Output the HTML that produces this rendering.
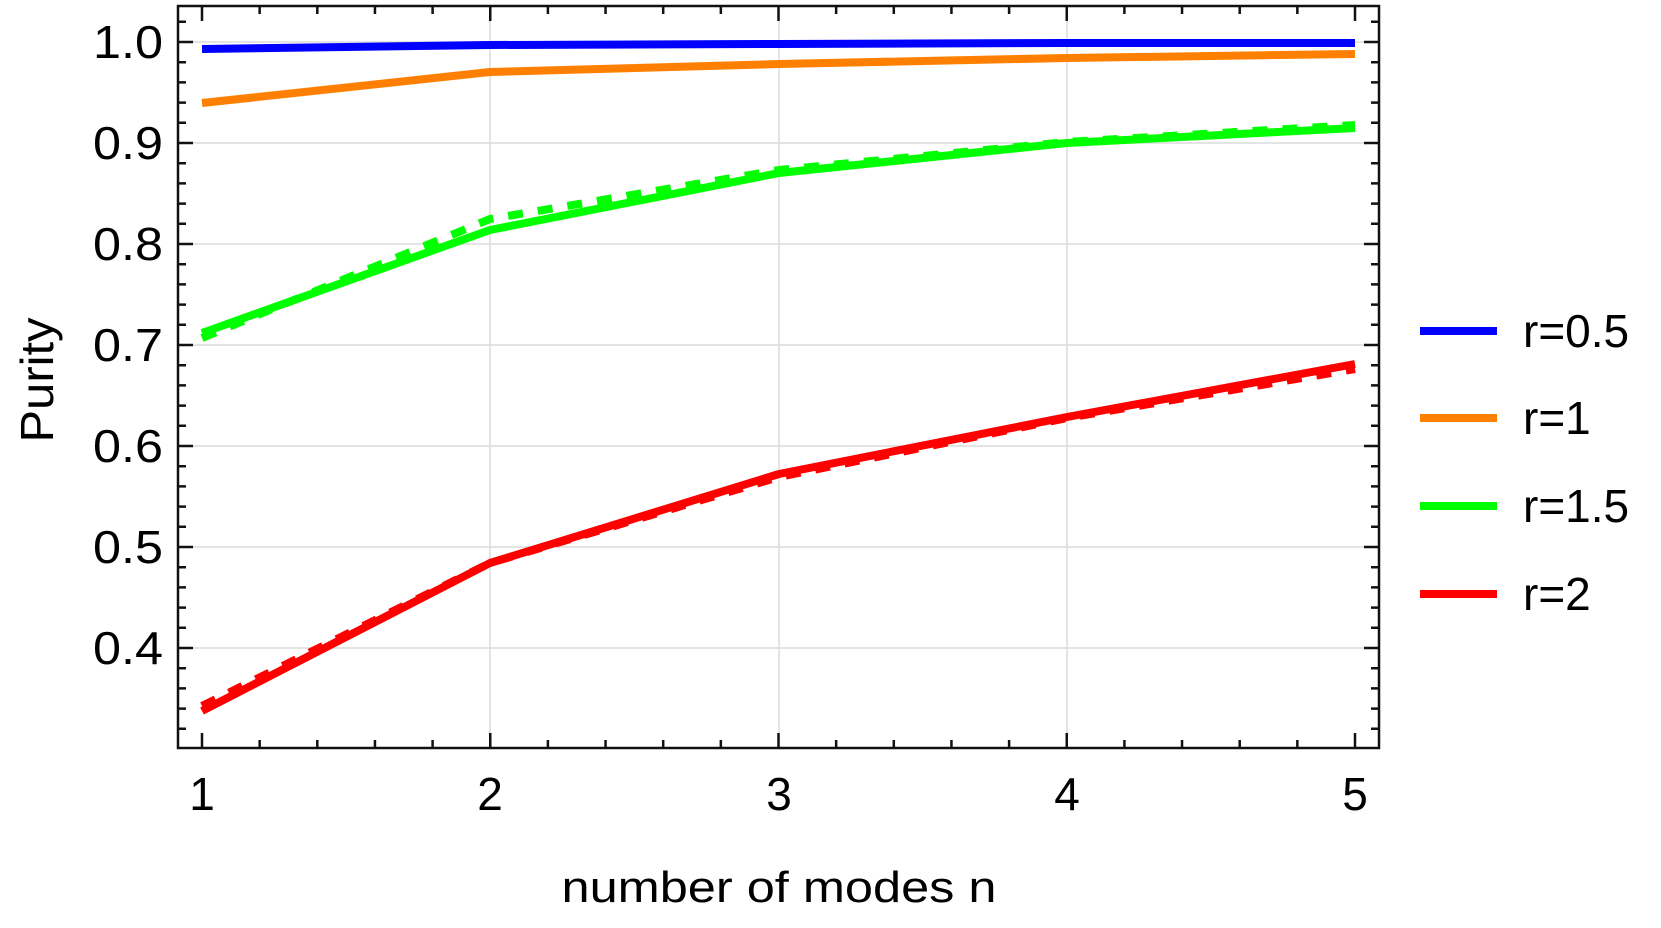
<!DOCTYPE html>
<html><head><meta charset="utf-8"><style>
html,body{margin:0;padding:0;background:#fff;}
svg{display:block;}
text{font-family:"Liberation Sans Narrow","Liberation Sans",sans-serif;fill:#000;}
</style></head><body>
<svg width="1661" height="928" viewBox="0 0 1661 928" xmlns="http://www.w3.org/2000/svg">
<g stroke="#dcdcdc" stroke-width="1.5">
<line x1="490" y1="6" x2="490" y2="748"/><line x1="779" y1="6" x2="779" y2="748"/><line x1="1067" y1="6" x2="1067" y2="748"/>
<line x1="178" y1="42" x2="1379" y2="42"/><line x1="178" y1="143" x2="1379" y2="143"/><line x1="178" y1="244" x2="1379" y2="244"/><line x1="178" y1="345" x2="1379" y2="345"/><line x1="178" y1="446" x2="1379" y2="446"/><line x1="178" y1="547" x2="1379" y2="547"/><line x1="178" y1="648" x2="1379" y2="648"/>
</g>
<g fill="none" stroke-width="8" stroke-linejoin="round">
<polyline stroke="#0000ff" points="202,49 490,45 779,44 1067,43 1355,43"/>
<polyline stroke="#ff8000" points="202,103 490,72 779,64 1067,58 1355,54"/>
<polyline stroke="#00ff00" stroke-dasharray="15,15" points="202,338 490,219 779,170 1067,142 1355,125"/>
<polyline stroke="#00ff00" points="202,333 490,230 779,173 1067,143 1355,128"/>
<polyline stroke="#ff0000" stroke-dasharray="15,15" points="202,706 490,563 779,477 1067,418 1355,369"/>
<polyline stroke="#ff0000" points="202,711 490,563 779,474 1067,417 1355,364"/>
</g>
<g stroke="#111" stroke-width="2.5" fill="none">
<path d="M178 21.8h8M178 42h15M178 62.2h8M178 82.4h8M178 102.6h8M178 122.8h8M178 143h15M178 163.2h8M178 183.4h8M178 203.6h8M178 223.8h8M178 244h15M178 264.2h8M178 284.4h8M178 304.6h8M178 324.8h8M178 345h15M178 365.2h8M178 385.4h8M178 405.6h8M178 425.8h8M178 446h15M178 466.2h8M178 486.4h8M178 506.6h8M178 526.8h8M178 547h15M178 567.2h8M178 587.4h8M178 607.6h8M178 627.8h8M178 648h15M178 668.2h8M178 688.4h8M178 708.6h8M178 728.8h8"/>
<path d="M1379 21.8h-8M1379 42h-15M1379 62.2h-8M1379 82.4h-8M1379 102.6h-8M1379 122.8h-8M1379 143h-15M1379 163.2h-8M1379 183.4h-8M1379 203.6h-8M1379 223.8h-8M1379 244h-15M1379 264.2h-8M1379 284.4h-8M1379 304.6h-8M1379 324.8h-8M1379 345h-15M1379 365.2h-8M1379 385.4h-8M1379 405.6h-8M1379 425.8h-8M1379 446h-15M1379 466.2h-8M1379 486.4h-8M1379 506.6h-8M1379 526.8h-8M1379 547h-15M1379 567.2h-8M1379 587.4h-8M1379 607.6h-8M1379 627.8h-8M1379 648h-15M1379 668.2h-8M1379 688.4h-8M1379 708.6h-8M1379 728.8h-8"/>
<path d="M202 748v-15M259.65 748v-8M317.3 748v-8M374.95 748v-8M432.6 748v-8M490.25 748v-15M547.9 748v-8M605.55 748v-8M663.2 748v-8M720.85 748v-8M778.5 748v-15M836.15 748v-8M893.8 748v-8M951.45 748v-8M1009.1 748v-8M1066.75 748v-15M1124.4 748v-8M1182.05 748v-8M1239.7 748v-8M1297.35 748v-8M1355 748v-15"/>
<path d="M202 6v15M259.65 6v8M317.3 6v8M374.95 6v8M432.6 6v8M490.25 6v15M547.9 6v8M605.55 6v8M663.2 6v8M720.85 6v8M778.5 6v15M836.15 6v8M893.8 6v8M951.45 6v8M1009.1 6v8M1066.75 6v15M1124.4 6v8M1182.05 6v8M1239.7 6v8M1297.35 6v8M1355 6v15"/>
</g>
<rect x="178" y="6" width="1201" height="742" fill="none" stroke="#111" stroke-width="2.5"/>
<g font-size="46" text-anchor="end">
<text x="163" y="58" textLength="70" lengthAdjust="spacingAndGlyphs">1.0</text><text x="163" y="159" textLength="70" lengthAdjust="spacingAndGlyphs">0.9</text><text x="163" y="260" textLength="70" lengthAdjust="spacingAndGlyphs">0.8</text><text x="163" y="361" textLength="70" lengthAdjust="spacingAndGlyphs">0.7</text><text x="163" y="462" textLength="70" lengthAdjust="spacingAndGlyphs">0.6</text><text x="163" y="563" textLength="70" lengthAdjust="spacingAndGlyphs">0.5</text><text x="163" y="664" textLength="70" lengthAdjust="spacingAndGlyphs">0.4</text>
</g>
<g font-size="46" text-anchor="middle">
<text x="202" y="810">1</text><text x="490" y="810">2</text><text x="779" y="810">3</text><text x="1067" y="810">4</text><text x="1355" y="810">5</text>
</g>
<text x="779" y="902" font-size="44" text-anchor="middle" textLength="435" lengthAdjust="spacingAndGlyphs">number of modes n</text>
<text transform="translate(53,380) rotate(-90)" font-size="46" text-anchor="middle" textLength="125" lengthAdjust="spacingAndGlyphs">Purity</text>
<g stroke-width="8">
<line x1="1420" y1="331" x2="1497" y2="331" stroke="#0000ff"/>
<line x1="1420" y1="418" x2="1497" y2="418" stroke="#ff8000"/>
<line x1="1420" y1="506" x2="1497" y2="506" stroke="#00ff00"/>
<line x1="1420" y1="594" x2="1497" y2="594" stroke="#ff0000"/>
</g>
<g font-size="46" style="font-family:'Liberation Sans',sans-serif">
<text x="1523" y="347">r=0.5</text><text x="1523" y="434">r=1</text><text x="1523" y="522">r=1.5</text><text x="1523" y="610">r=2</text>
</g>
</svg>
</body></html>
